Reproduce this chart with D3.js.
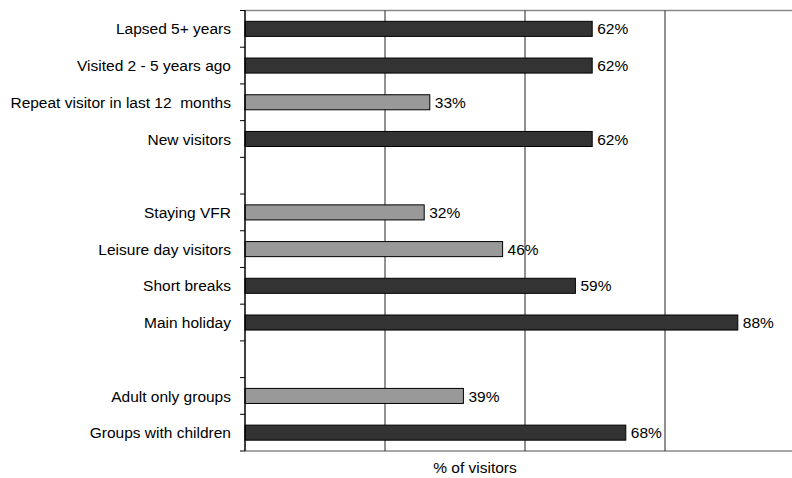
<!DOCTYPE html>
<html>
<head>
<meta charset="UTF-8">
<title></title>
<script src="https://d3js.org/d3.v7.min.js"></script>
<style>
html, body { margin: 0; padding: 0; background: #fff; }
body { font-family: "Liberation Sans", Arial, sans-serif; }
svg text { font-family: "Liberation Sans", Arial, sans-serif; fill: #000; white-space: pre; }
</style>
</head>
<body>
<svg id="chart" width="792" height="478"></svg>
<script>
// rows top to bottom, blank strings are the gaps between groups
var categories = ["Lapsed 5+ years", "Visited 2 - 5 years ago", "Repeat visitor in last 12  months", "New visitors",
  "", "Staying VFR", "Leisure day visitors", "Short breaks", "Main holiday",
  "", "Adult only groups", "Groups with children"];
var values = [62, 62, 33, 62, null, 32, 46, 59, 88, null, 39, 68];
var shade = ["dark", "dark", "light", "dark", null, "light", "light", "dark", "dark", null, "light", "dark"];
var gridTicks = [25, 50, 75];
var xTitle = "% of visitors";

var margin = {top: 10.5, left: 245},
    plotW = 560, plotH = 440.5;

var svg = d3.select("#chart");
var g = svg.append("g").attr("transform", "translate(" + margin.left + "," + margin.top + ")");

var x = d3.scaleLinear().domain([0, 100]).range([0, plotW]);
var y = d3.scaleBand().domain(d3.range(categories.length)).range([0, plotH]).paddingInner(0.59).paddingOuter(0.295);
var yb = d3.scaleBand().domain(d3.range(categories.length)).range([0, plotH]);

// frame top / bottom / right
g.append("line").attr("x1", 0).attr("x2", plotW).attr("y1", 0).attr("y2", 0)
  .attr("stroke", "#888").attr("stroke-width", 1.5);
g.append("line").attr("x1", 0).attr("x2", plotW).attr("y1", plotH).attr("y2", plotH)
  .attr("stroke", "#888").attr("stroke-width", 1.5);
g.append("line").attr("x1", plotW).attr("x2", plotW).attr("y1", 0).attr("y2", plotH)
  .attr("stroke", "#888").attr("stroke-width", 1.5);

// vertical gridlines
g.selectAll("line.grid").data(gridTicks).enter().append("line")
  .attr("class", "grid")
  .attr("x1", d => x(d)).attr("x2", d => x(d))
  .attr("y1", 0).attr("y2", plotH)
  .attr("stroke", "#222").attr("stroke-width", 1);

// bars
var rows = categories.map((c, i) => ({i: i, label: c, v: values[i], s: shade[i]}));
var barRows = rows.filter(d => d.v != null);

g.selectAll("rect.bar").data(barRows).enter().append("rect")
  .attr("class", "bar")
  .attr("x", x(0))
  .attr("y", d => y(d.i))
  .attr("width", d => x(d.v) - x(0))
  .attr("height", y.bandwidth())
  .attr("fill", d => d.s == "dark" ? "#333333" : "#999999")
  .attr("stroke", "#000").attr("stroke-width", 1);

g.selectAll("text.val").data(barRows).enter().append("text")
  .attr("class", "val")
  .attr("x", d => x(d.v) + 5)
  .attr("y", d => y(d.i) + y.bandwidth() / 2)
  .attr("dy", "0.36em")
  .style("font-size", "15.5px")
  .text(d => d.v + "%");

// category labels
g.selectAll("text.cat").data(rows).enter().append("text")
  .attr("class", "cat")
  .attr("x", -14)
  .attr("y", d => yb(d.i) + yb.bandwidth() / 2)
  .attr("dy", "0.36em")
  .attr("text-anchor", "end")
  .style("font-size", "15.5px")
  .text(d => d.label);

// left axis with ticks on the band edges
var edges = d3.range(categories.length).map(i => yb(i)).concat([plotH]);
g.append("line").attr("x1", 0).attr("x2", 0).attr("y1", 0).attr("y2", plotH)
  .attr("stroke", "#000").attr("stroke-width", 1.5);
g.selectAll("line.tick").data(edges).enter().append("line")
  .attr("class", "tick")
  .attr("x1", -5).attr("x2", 0)
  .attr("y1", d => d).attr("y2", d => d)
  .attr("stroke", "#000").attr("stroke-width", 1);

svg.append("text")
  .attr("x", 475).attr("y", 473)
  .attr("text-anchor", "middle")
  .style("font-size", "15.5px")
  .text(xTitle);
</script>
</body>
</html>
